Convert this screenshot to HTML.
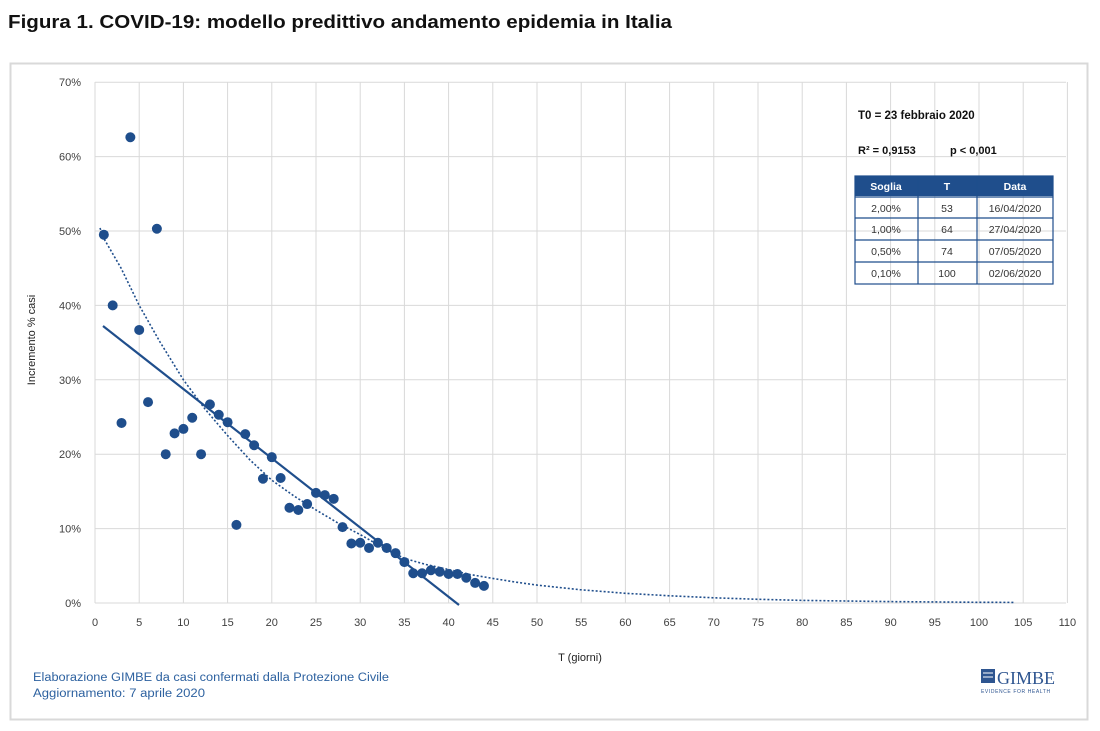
<!DOCTYPE html>
<html><head><meta charset="utf-8">
<style>
body{margin:0;background:#fff;width:1100px;height:726px;overflow:hidden;font-family:"Liberation Sans",sans-serif}
</style></head><body>
<svg id="s" width="1100" height="726" xmlns="http://www.w3.org/2000/svg" font-family="Liberation Sans, sans-serif">
<text x="8" y="28" font-size="18" font-weight="bold" fill="#111" textLength="664" lengthAdjust="spacingAndGlyphs">Figura 1. COVID-19: modello predittivo andamento epidemia in Italia</text>
<rect x="10.5" y="63.5" width="1077" height="656" fill="#fff" stroke="#d9d9d9" stroke-width="2"/>
<g id="grid" stroke="#d9d9d9" stroke-width="1"></g>
<g id="lab" font-size="11" fill="#404040"></g>
<text transform="translate(35,340) rotate(-90)" font-size="11" fill="#222" text-anchor="middle">Incremento % casi</text>
<text x="580" y="661" font-size="11" fill="#222" text-anchor="middle">T (giorni)</text>
<polyline fill="none" stroke="#1f4e8c" stroke-width="1.6" stroke-dasharray="2,2" points="100,228 103.8,238.4 121,268 139.2,305.4 160,342 183.4,379.8 205,409 227.6,435.6 250,460 271.8,480.2 294,496 316,510 338,523 360.2,534.6 382,547 404.4,558.4 426,564.5 448.6,569.5 470,574.5 492.8,578.4 515,582 537,585.1 580,589.7 625.4,593.3 670,595.8 713.8,597.8 758,599.3 802.2,600.4 890,601.6 979,602.3 1014,602.4"/>
<line x1="103" y1="326" x2="459" y2="605" stroke="#1f4e8c" stroke-width="2.2"/>
<g id="dots" fill="#1f4e8c"></g>
<text x="858" y="119" font-size="11.5" font-weight="bold" fill="#111">T0 = 23 febbraio 2020</text>
<text x="858" y="154" font-size="11" font-weight="bold" fill="#111">R² = 0,9153</text>
<text x="950" y="154" font-size="11" font-weight="bold" fill="#111">p &lt; 0,001</text>
<g font-size="10.5" text-anchor="middle">
<rect x="855" y="176" width="198" height="20" fill="#1f4e8c"/>
<text x="886" y="190" fill="#fff" font-weight="bold">Soglia</text>
<text x="947" y="190" fill="#fff" font-weight="bold">T</text>
<text x="1015" y="190" fill="#fff" font-weight="bold">Data</text>
<g stroke="#1f4e8c" stroke-width="1.2" fill="none">
<rect x="855" y="176" width="198" height="108"/>
<line x1="855" y1="197" x2="1053" y2="197"/><line x1="855" y1="218" x2="1053" y2="218"/>
<line x1="855" y1="240" x2="1053" y2="240"/><line x1="855" y1="262" x2="1053" y2="262"/>
<line x1="918" y1="176" x2="918" y2="284"/><line x1="977" y1="176" x2="977" y2="284"/>
</g>
<g fill="#333">
<text x="886" y="212">2,00%</text><text x="947" y="212">53</text><text x="1015" y="212">16/04/2020</text>
<text x="886" y="233">1,00%</text><text x="947" y="233">64</text><text x="1015" y="233">27/04/2020</text>
<text x="886" y="255">0,50%</text><text x="947" y="255">74</text><text x="1015" y="255">07/05/2020</text>
<text x="886" y="277">0,10%</text><text x="947" y="277">100</text><text x="1015" y="277">02/06/2020</text>
</g></g>
<text x="33" y="681" font-size="11.5" fill="#2e62a0" textLength="356" lengthAdjust="spacingAndGlyphs">Elaborazione GIMBE da casi confermati dalla Protezione Civile</text>
<text x="33" y="697" font-size="11.5" fill="#2e62a0" textLength="172" lengthAdjust="spacingAndGlyphs">Aggiornamento: 7 aprile 2020</text>
<rect x="981" y="669" width="14" height="14" fill="#2e5590"/>
<line x1="983" y1="673" x2="993" y2="673" stroke="#fff" stroke-width="1"/><line x1="983" y1="677" x2="993" y2="677" stroke="#fff" stroke-width="1"/>
<text x="997" y="684" font-size="18" font-family="Liberation Serif, serif" fill="#2e5590">GIMBE</text>
<text x="981" y="693" font-size="5" fill="#2e5590" letter-spacing="0.6">EVIDENCE FOR HEALTH</text>
</svg>
<script>
var ns="http://www.w3.org/2000/svg";
function px(t){return 95+8.84*t}function py(v){return 603-7.44*v}
var g=document.getElementById("grid"),l=document.getElementById("lab");
function el(p,n,a,t){var e=document.createElementNS(ns,n);for(var k in a)e.setAttribute(k,a[k]);if(t!=null)e.textContent=t;p.appendChild(e);}
for(var t=0;t<=110;t+=5){el(g,"line",{x1:px(t),y1:82,x2:px(t),y2:603});el(l,"text",{x:px(t),y:626,"text-anchor":"middle"},t);}
for(var v=0;v<=70;v+=10){el(g,"line",{x1:95,y1:py(v),x2:1066,y2:py(v)});el(l,"text",{x:81,y:py(v)+4,"text-anchor":"end"},v+"%");}
var d=[49.5,40,24.2,62.6,36.7,27,50.3,20,22.8,23.4,24.9,20,26.7,25.3,24.3,10.5,22.7,21.2,16.7,19.6,16.8,12.8,12.5,13.3,14.8,14.5,14,10.2,8,8.1,7.4,8.1,7.4,6.7,5.5,4,4,4.4,4.2,3.9,3.9,3.4,2.7,2.3];
var dg=document.getElementById("dots");
d.forEach(function(v,i){el(dg,"circle",{cx:px(i+1),cy:py(v),r:5});});
</script>
</body></html>
